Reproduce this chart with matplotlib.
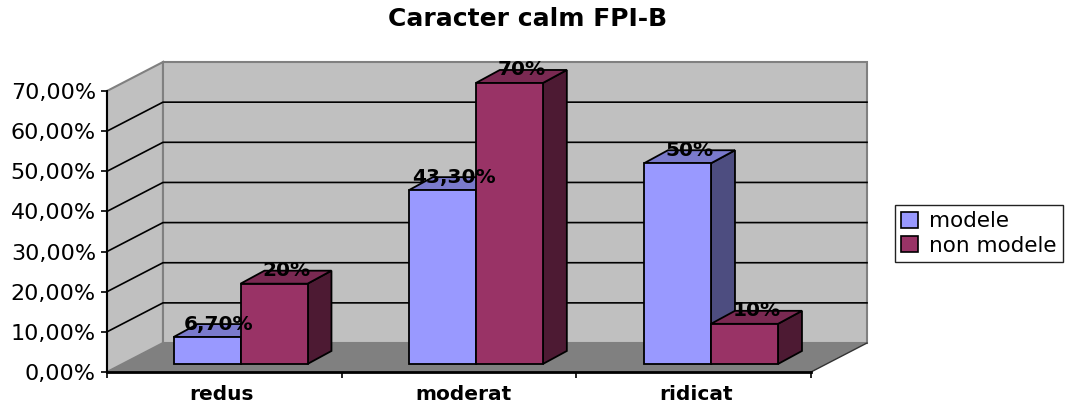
#!/usr/bin/env python3
"""Caracter calm FPI-B: Excel style 3D clustered columns, faked on a 2D axes."""
import matplotlib
matplotlib.use('Agg')
import matplotlib.pyplot as plt
from matplotlib.patches import Polygon, Patch
import numpy as np

# ---- Data ----
categories = ['redus', 'moderat', 'ridicat']
modele = [6.7, 43.3, 50.0]
non_modele = [20.0, 70.0, 10.0]
modele_labels = ['6,70%', '43,30%', '50%']
non_modele_labels = ['20%', '70%', '10%']
y_ticks = [0, 10, 20, 30, 40, 50, 60, 70]
y_tick_labels = ['0,00%', '10,00%', '20,00%', '30,00%', '40,00%', '50,00%', '60,00%', '70,00%']

# ---- Style ----
C_BLUE = ('#9999FF', '#7A7ACC', '#4D4D80')    # front, top, side
C_RED = ('#993366', '#7A2952', '#4D1A33')
C_WALL = '#C0C0C0'
C_FLOOR = '#808080'
FONT = 'DejaVu Sans'
TICK_SIZE = 16
BOLD_SIZE = 14.5

# 3D offsets in data units (x: categories, y: percent)
WALL_DX, WALL_DY = 0.2386, 7.22
BAR_DX, BAR_DY = 0.102, 3.24
BASE_DX, BASE_DY = 0.066, 2.0
BAR_W = 0.2855

plt.rcParams['font.family'] = FONT

fig = plt.figure(figsize=(10.65, 4.04), dpi=100)
ax = fig.add_axes([107 / 1065, 32 / 404, 704 / 1065, 281 / 404])
ax.set_xlim(0, 3)
ax.set_ylim(0, 70)
ax.patch.set_visible(False)


def poly(pts, color, edge='none', lw=0.0, z=1):
    ax.add_patch(Polygon(pts, closed=True, facecolor=color, edgecolor=edge,
                         linewidth=lw, zorder=z, clip_on=False))


# walls and floor
poly([(0, 0), (WALL_DX, WALL_DY), (WALL_DX, 70 + WALL_DY), (0, 70)], C_WALL, C_FLOOR, 1.5)
poly([(WALL_DX, WALL_DY), (3 + WALL_DX, WALL_DY), (3 + WALL_DX, 70 + WALL_DY),
      (WALL_DX, 70 + WALL_DY)], C_WALL, C_FLOOR, 1.5)
poly([(0, 0), (3, 0), (3 + WALL_DX, WALL_DY), (WALL_DX, WALL_DY)], C_FLOOR, z=1.5)
ax.plot([3, 3 + WALL_DX], [0, WALL_DY], color='#333333', lw=1.0, zorder=1.6, clip_on=False)

# gridlines along side and back wall
for v in y_ticks[1:-1]:
    ax.plot([0, WALL_DX, 3 + WALL_DX], [v, v + WALL_DY, v + WALL_DY],
            color='black', lw=1.2, zorder=2, clip_on=False)


def column(x0, val, cols, z):
    x1 = x0 + BAR_W
    base = BASE_DY
    top = BASE_DY + val
    ax.bar(x0, val, BAR_W, bottom=base, align='edge', color=cols[0],
           edgecolor='black', linewidth=1.3, zorder=z + 0.2, clip_on=False)
    poly([(x1, base), (x1 + BAR_DX, base + BAR_DY), (x1 + BAR_DX, top + BAR_DY), (x1, top)],
         cols[2], 'black', 1.3, z)
    poly([(x0, top), (x0 + BAR_DX, top + BAR_DY), (x1 + BAR_DX, top + BAR_DY), (x1, top)],
         cols[1], 'black', 1.3, z)


# columns, front-left first so later ones cover the earlier side faces
x = np.arange(len(categories)) + 0.5 + BASE_DX
x[0] += 0.003
x[1] += 0.006
x[2] += 0.008
for i in range(len(categories)):
    column(x[i] - BAR_W, modele[i], C_BLUE, 3 + i)
    column(x[i], non_modele[i], C_RED, 3.5 + i)
    ax.text(x[i] - BAR_W / 2 + BAR_DX / 2, modele[i] + BASE_DY + BAR_DY, modele_labels[i],
            ha='center', va='center', fontsize=BOLD_SIZE, fontweight='bold', color='black', zorder=10)
    ax.text(x[i] + BAR_W / 2 + BAR_DX / 2, non_modele[i] + BASE_DY + BAR_DY, non_modele_labels[i],
            ha='center', va='center', fontsize=BOLD_SIZE, fontweight='bold', color='black', zorder=10)

# axes
ax.spines[['top', 'right']].set_visible(False)
ax.spines['left'].set_linewidth(1.5)
ax.spines['bottom'].set_linewidth(2.0)
ax.spines['left'].set_zorder(2.5)
ax.spines['bottom'].set_zorder(2.5)
ax.set_yticks(y_ticks)
ax.set_yticklabels(y_tick_labels, fontsize=TICK_SIZE)
ax.tick_params(axis='y', length=4, width=1.2, pad=4)
ax.set_xticks(np.arange(len(categories) + 1))
ax.set_xticklabels([])
ax.tick_params(axis='x', length=4, width=1.2)
for xc, c in zip([0.49, 1.52, 2.51], categories):
    ax.text(xc, -5.5, c, ha='center', va='center', fontsize=BOLD_SIZE, fontweight='bold',
            clip_on=False)

fig.text(528 / 1065, 1 - 19 / 404, 'Caracter calm FPI-B', ha='center', va='center',
         fontsize=18, fontweight='bold')

handles = [Patch(facecolor=C_BLUE[0], edgecolor='black', linewidth=1.2, label='modele'),
           Patch(facecolor=C_RED[0], edgecolor='black', linewidth=1.2, label='non modele')]
fig.legend(handles=handles, loc='center', bbox_to_anchor=(979 / 1065, 1 - 233.5 / 404),
           fontsize=15.5, frameon=True, fancybox=False, framealpha=1, edgecolor='#222222',
           handlelength=0.8, handleheight=0.8, handletextpad=0.5, borderpad=0.3,
           labelspacing=0.2, borderaxespad=0)

fig.savefig('out.png', dpi=100, facecolor='white')
